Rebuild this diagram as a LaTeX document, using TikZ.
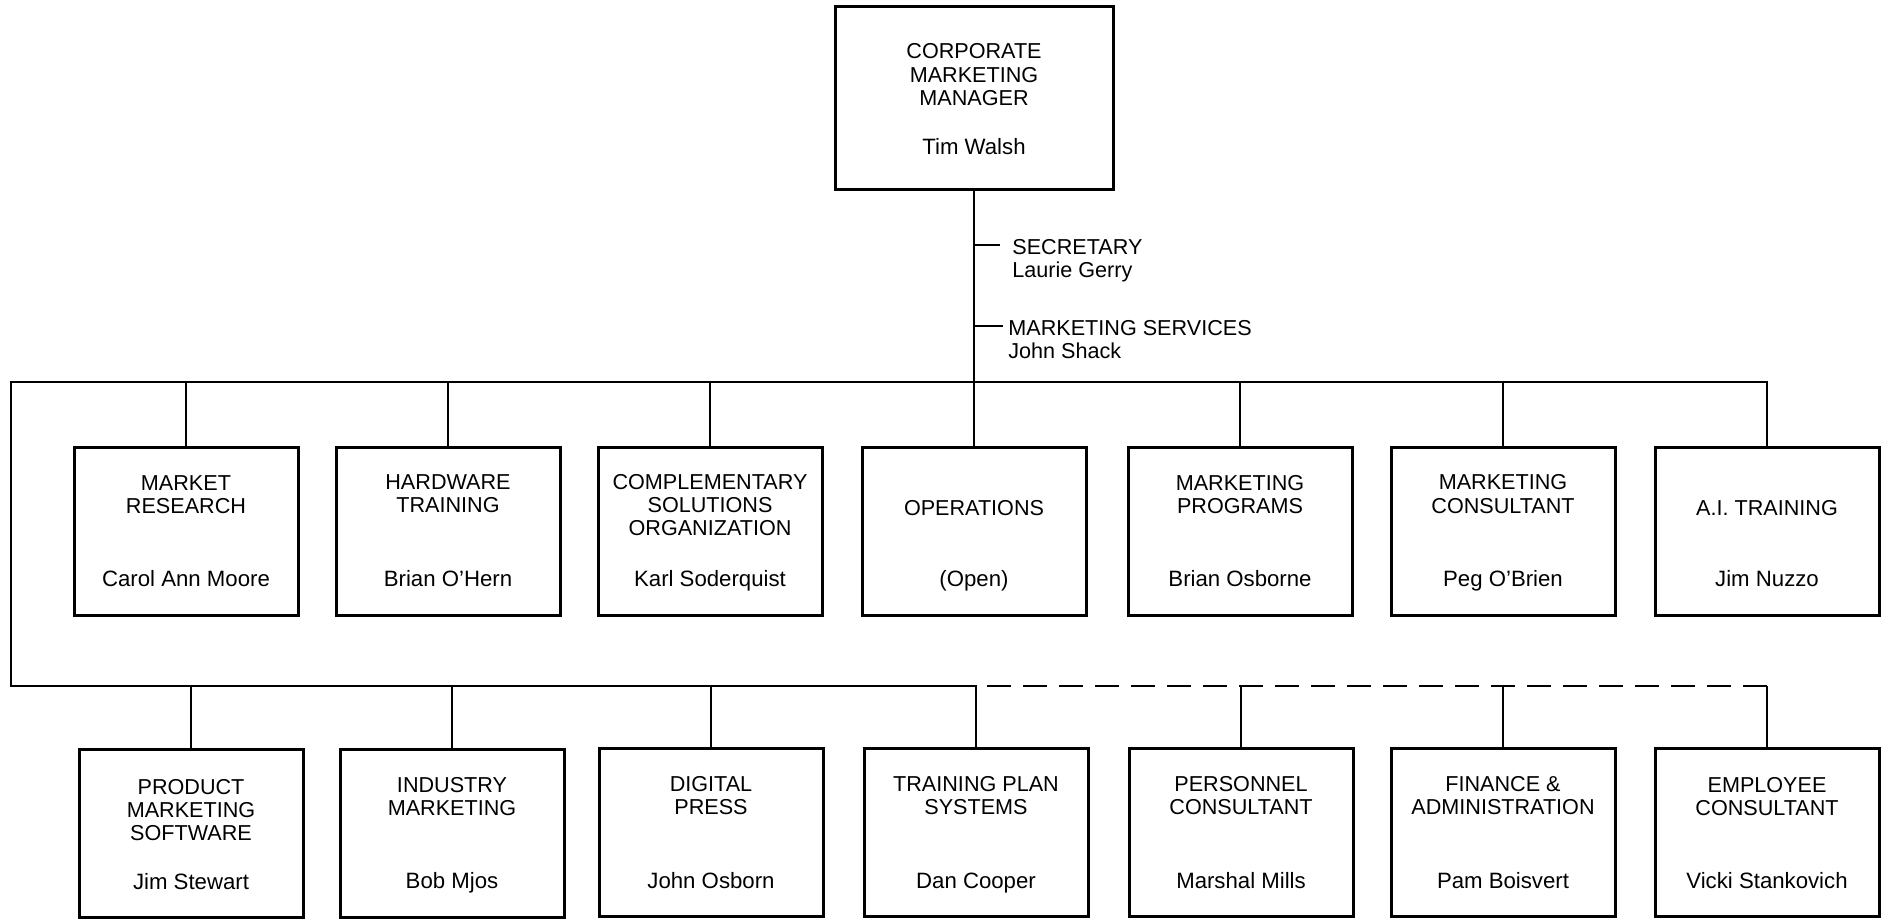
\documentclass[tikz,border=0pt]{standalone}
\usepackage{fontspec}
\setmainfont{Liberation Sans}
% one unit of the chart: framed box, title near the top, person near the bottom
\newcommand\orgunit[6]{%
  \node[unit] (#1) at (#2,#3) {};
  \node[ttl] (#1-t) at ([yshift=-#4]#1.north) {#5};
  \node[who] (#1-p) at ([yshift=15pt]#1.south) {#6};
}
\begin{document}
\begin{tikzpicture}[x=0.5pt,y=-0.5pt,
  every node/.style={font=\fontsize{10.8}{11.6}\selectfont, inner sep=0pt},
  unit/.style={draw, line width=1.5pt, minimum width=112pt, minimum height=84pt},
  link/.style={line width=1pt},
  dotted link/.style={link, dash pattern=on 12pt off 6pt, dash phase=12.5pt},
  ttl/.style={anchor=north, align=center},
  who/.style={anchor=base, font=\fontsize{11.1}{11.6}\selectfont},
  aside/.style={anchor=north west, align=left}]
\useasboundingbox (0,0) rectangle (1889,919);

% head of the department
\node[unit, minimum width=139pt, minimum height=91.5pt] (cmm) at (974,98.5) {};
\node[ttl] (cmm-t) at ([yshift=-19pt]cmm.north) {CORPORATE\\MARKETING\\MANAGER};
\node[who] (cmm-p) at ([yshift=18.5pt]cmm.south) {Tim Walsh};

% staff attached to the trunk
\node[aside] (sec) at (1012,239) {SECRETARY\\Laurie Gerry};
\node[aside] (ms) at (1008,320) {MARKETING SERVICES\\John Shack};
\coordinate (secTick) at (1000,245);
\coordinate (msTick) at (1003,326);

% first row
\orgunit{mr}{186}{531}{14.8pt}{MARKET\\RESEARCH}{Carol Ann Moore}
\orgunit{hw}{448}{531}{14.5pt}{HARDWARE\\TRAINING}{Brian O’Hern}
\orgunit{cso}{710}{531}{14.3pt}{COMPLEMENTARY\\SOLUTIONS\\ORGANIZATION}{Karl Soderquist}
\orgunit{ops}{974}{531}{27.3pt}{OPERATIONS}{(Open)}
\orgunit{mp}{1240}{531}{14.8pt}{MARKETING\\PROGRAMS}{Brian Osborne}
\orgunit{mc}{1503}{531}{14.5pt}{MARKETING\\CONSULTANT}{Peg O’Brien}
\orgunit{ai}{1767}{531}{27.3pt}{A.I. TRAINING}{Jim Nuzzo}

% second row
\orgunit{pms}{191}{833.5}{15.5pt}{PRODUCT\\MARKETING\\SOFTWARE}{Jim Stewart}
\orgunit{im}{452}{833}{14.8pt}{INDUSTRY\\MARKETING}{Bob Mjos}
\orgunit{dp}{711}{832.5}{14.5pt}{DIGITAL\\PRESS}{John Osborn}
\orgunit{tps}{976}{832.5}{14.3pt}{TRAINING PLAN\\SYSTEMS}{Dan Cooper}
\orgunit{pc}{1241}{832.5}{14.3pt}{PERSONNEL\\CONSULTANT}{Marshal Mills}
\orgunit{fa}{1503}{832.5}{14.3pt}{FINANCE \&\\ADMINISTRATION}{Pam Boisvert}
\orgunit{ec}{1767}{832.5}{14.8pt}{EMPLOYEE\\CONSULTANT}{Vicki Stankovich}

% bus corners
\coordinate (busT) at (11,382);
\coordinate (busB) at (11,686);

% trunk and staff ticks
\draw[link] (cmm.south) -- (ops.north);
\draw[link] (cmm.south |- secTick) -- (secTick);
\draw[link] (cmm.south |- msTick) -- (msTick);

% upper bus
\draw[link] (busB) -- (busT) -- (ai.north |- busT) -- (ai.north);
\foreach \u in {mr,hw,cso,mp,mc}
  \draw[link] (\u.north |- busT) -- (\u.north);

% lower bus, solid part
\draw[link] (busT) -- (busB) -- (tps.north |- busB) -- (tps.north);
\foreach \u in {pms,im,dp}
  \draw[link] (\u.north |- busB) -- (\u.north);

% lower bus, dashed part
\draw[dotted link] (tps.north |- busB) -- (ec.north |- busB);
\foreach \u in {pc,fa,ec}
  \draw[link] (\u.north |- busB) -- (\u.north);
\end{tikzpicture}
\end{document}
